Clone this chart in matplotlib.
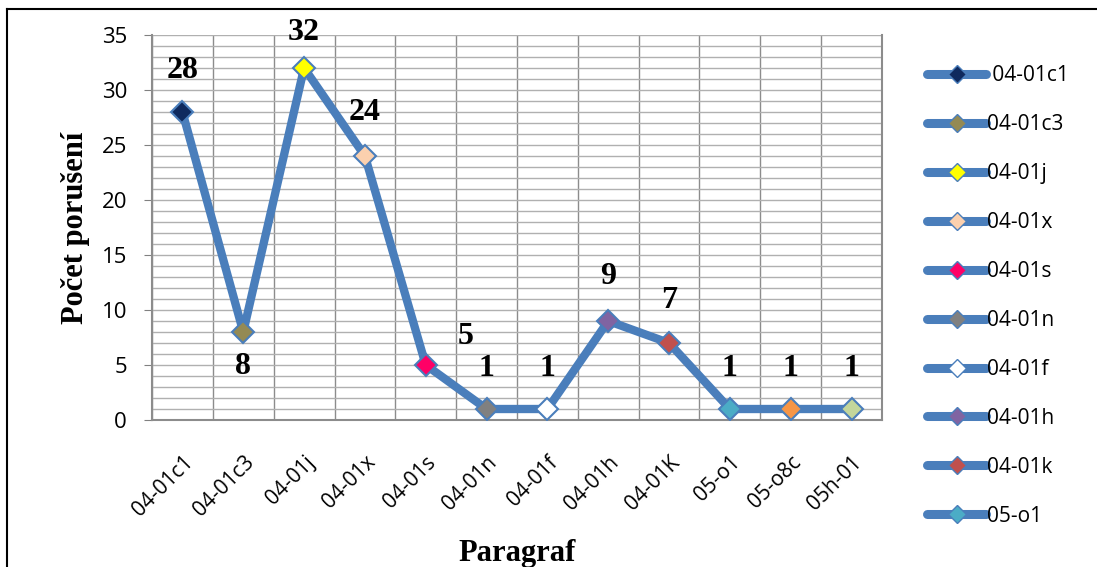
import matplotlib
matplotlib.use("Agg")
import matplotlib.pyplot as plt
import matplotlib.transforms as mtransforms
from matplotlib.lines import Line2D
import numpy as np

categories = ["04-01c1", "04-01c3", "04-01j", "04-01x", "04-01s", "04-01n",
              "04-01f", "04-01h", "04-01K", "05-o1", "05-o8c", "05h-01"]
legend_names = [" 04-01c1", "04-01c3", "04-01j", "04-01x", "04-01s", "04-01n",
                "04-01f", "04-01h", "04-01k", "05-o1"]
values = [28, 8, 32, 24, 5, 1, 1, 9, 7, 1, 1, 1]
marker_colors = ["#0F2A5E", "#948A54", "#FFFF00", "#FBD0AE", "#FF0066", "#808080",
                 "#FFFFFF", "#8064A2", "#C0504D", "#4BACC6", "#F79646", "#C3D69B"]
# label offsets in pixels (dx, dy)
label_offsets = [(0, 42), (0, -34), (0, 35), (0, 43), (40, 28), (0, 41),
                 (0, 41), (0, 44), (0, 43), (0, 41), (0, 41), (0, 41)]

blue = "#4A7EBB"
sans = "Open Sans"
serif = "Liberation Serif"

fig = plt.figure(figsize=(10.97, 5.67), dpi=100)
ax = fig.add_axes([152 / 1097, 1 - 420 / 567, 730 / 1097, 385 / 567])

x = np.arange(len(categories))
ax.plot(x, values, color=blue, lw=6, solid_joinstyle="round", zorder=3)
for i, v in enumerate(values):
    ax.plot(x[i], v, marker="D", ms=11, mfc=marker_colors[i], mec=blue, mew=1.5,
            ls="none", zorder=4)
    ax.annotate(str(v), (x[i], v), xytext=label_offsets[i], textcoords="offset pixels",
                ha="center", va="center", fontsize=23, fontweight="bold",
                family=serif, zorder=5)

ax.set_xlim(-0.5, len(categories) - 0.5)
ax.set_ylim(0, 35)
ax.set_yticks(range(0, 36, 5))
ax.set_yticks(range(0, 36, 1), minor=True)
ax.set_xticks(np.arange(-0.5, len(categories), 1), minor=True)
ax.set_xticks(x)
ax.set_xticklabels(categories, rotation=45, ha="right", rotation_mode="anchor",
                   fontsize=15, family=sans)
shift = mtransforms.ScaledTranslation(4 / 100, 0, fig.dpi_scale_trans)
for lab in ax.get_xticklabels():
    lab.set_transform(lab.get_transform() + shift)
for lab in ax.get_yticklabels():
    lab.set_family(sans)
    lab.set_fontsize(16)
ax.tick_params(axis="x", which="major", length=0, pad=23)
ax.tick_params(axis="x", which="minor", length=0)
ax.tick_params(axis="y", which="major", length=6, color="#808080", pad=12)
ax.tick_params(axis="y", which="minor", length=0)

ax.grid(True, axis="y", which="both", color="#B0B0B0", lw=1)
ax.grid(True, axis="x", which="minor", color="#8C8C8C", lw=1)
ax.set_axisbelow(True)
ax.spines["top"].set_visible(False)
for s in ["left", "bottom", "right"]:
    ax.spines[s].set_color("#8C8C8C")
    ax.spines[s].set_linewidth(1.5)

ax.set_ylabel("Počet porušení", family=serif, fontsize=22, fontweight="bold", labelpad=8)
fig.text(517 / 1097, 1 - 561 / 567, "Paragraf", family=serif, fontsize=22,
         fontweight="bold", ha="center", va="baseline")

handles = [Line2D([], [], color=blue, lw=6.5, solid_capstyle="round", marker="D", ms=9,
                  mfc=marker_colors[i], mec=blue, mew=1) for i in range(len(legend_names))]
fig.legend(handles, legend_names, loc="upper left", bbox_to_anchor=(919 / 1097, 1 - 57 / 567),
           frameon=False, prop={"family": sans, "size": 15}, handlelength=2.8,
           handletextpad=0.05, labelspacing=1.34, borderaxespad=0)

# outer chart border (top and left edges visible)
fig.add_artist(Line2D([7 / 1097, 7 / 1097], [0, 1 - 9 / 567], color="black", lw=1.5,
                      transform=fig.transFigure))
fig.add_artist(Line2D([7 / 1097, 1], [1 - 9 / 567, 1 - 9 / 567], color="black", lw=1.5,
                      transform=fig.transFigure))

fig.savefig("out.png", dpi=100)
